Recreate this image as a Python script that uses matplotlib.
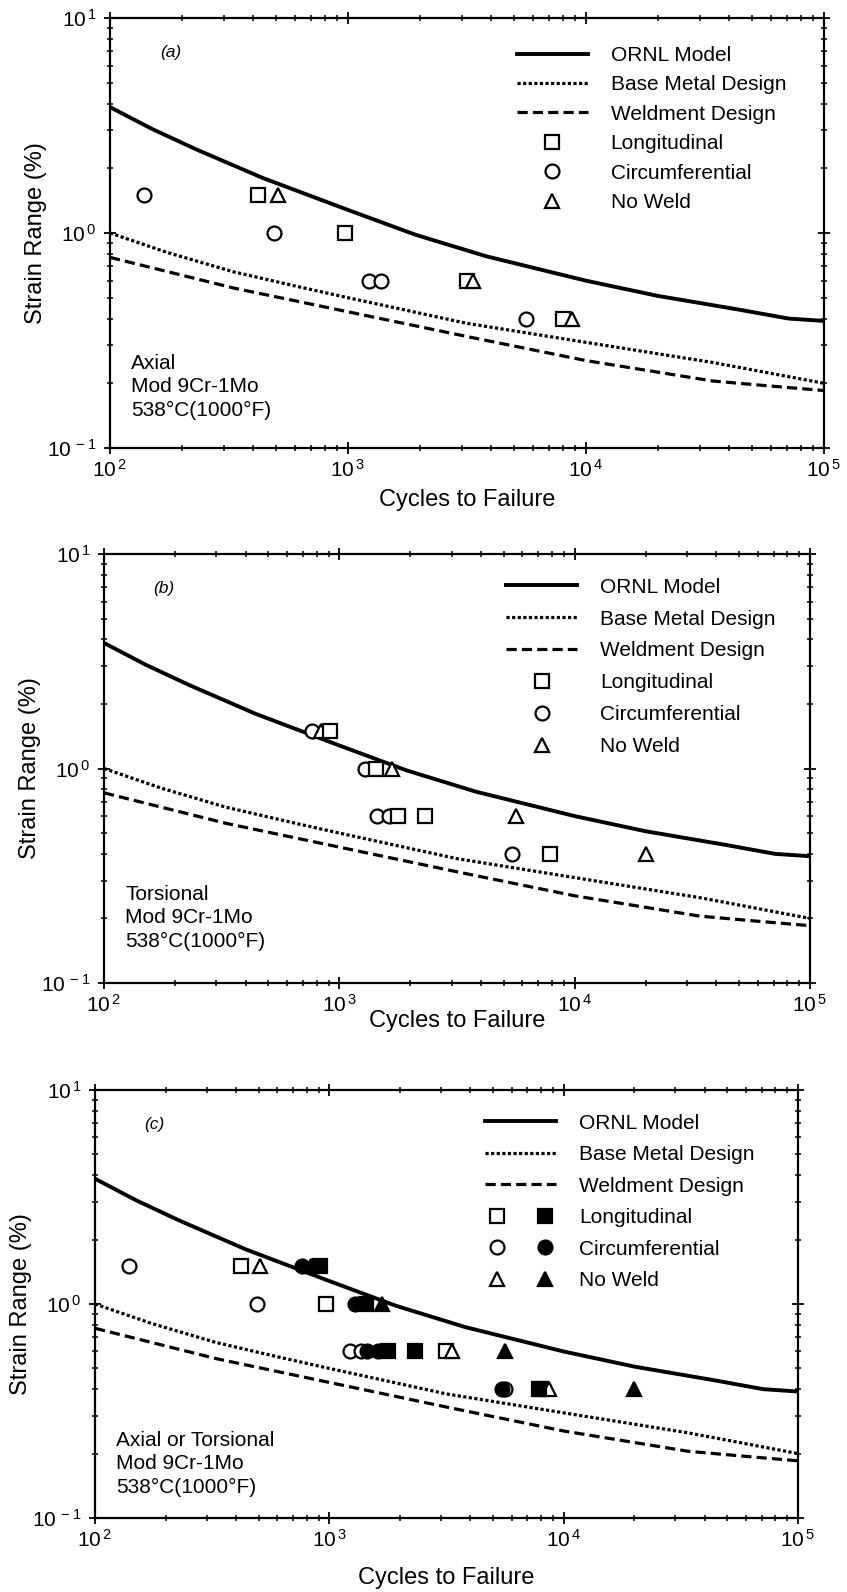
import matplotlib
matplotlib.use('Agg')
import matplotlib.pyplot as plt
import matplotlib.ticker as mticker
import numpy as np
from matplotlib.legend_handler import HandlerTuple

plt.rcParams['font.family'] = ['Liberation Sans', 'DejaVu Sans']
plt.rcParams['mathtext.default'] = 'regular'

# ---------------- data ----------------
# design / model curves (cycles, strain range %)
ornl_N = [100, 150, 230, 440, 1000, 1930, 3800, 10000, 20000, 44000, 71000, 100000]
ornl_S = [3.85, 3.05, 2.45, 1.80, 1.28, 0.98, 0.78, 0.60, 0.51, 0.44, 0.40, 0.39]

base_N = [100, 175, 330, 630, 1000, 3160, 10000, 34000, 100000]
base_S = [1.00, 0.81, 0.66, 0.56, 0.50, 0.38, 0.31, 0.25, 0.20]

weld_N = [100, 330, 1000, 3160, 10000, 34000, 57000, 100000]
weld_S = [0.77, 0.555, 0.43, 0.33, 0.255, 0.205, 0.195, 0.185]

# (a) axial tests
a_long_N = [420, 970, 3160, 8000]
a_long_S = [1.5, 1.0, 0.6, 0.4]
a_circ_N = [139, 490, 1230, 1370, 5600]
a_circ_S = [1.5, 1.0, 0.6, 0.6, 0.4]
a_nw_N = [508, 3350, 8700]
a_nw_S = [1.5, 0.6, 0.4]

# (b) torsional tests
b_long_N = [916, 1435, 1780, 2320, 7840]
b_long_S = [1.5, 1.0, 0.6, 0.6, 0.4]
b_circ_N = [768, 1290, 1445, 1620, 5440]
b_circ_S = [1.5, 1.0, 0.6, 0.6, 0.4]
b_nw_N = [838, 1680, 5610, 20000]
b_nw_S = [1.5, 1.0, 0.6, 0.4]

curve_labels = ['ORNL Model', 'Base Metal Design', 'Weldment Design']
marker_labels = ['Longitudinal', 'Circumferential', 'No Weld']
panel_tags = ['(a)', '(b)', '(c)']
panel_notes = ['Axial\nMod 9Cr-1Mo\n538°C(1000°F)',
               'Torsional\nMod 9Cr-1Mo\n538°C(1000°F)',
               'Axial or Torsional\nMod 9Cr-1Mo\n538°C(1000°F)']

# ---------------- figure ----------------
W, H = 847, 1592
fig = plt.figure(figsize=(W / 100, H / 100), dpi=100)

def box(l, r, t, b):
    return [l / W, 1 - b / H, (r - l) / W, (b - t) / H]

axes = [fig.add_axes(box(110, 824, 18, 448)),
        fig.add_axes(box(104, 810, 554, 983)),
        fig.add_axes(box(95, 798, 1090, 1518))]
xlabel_pads = [6, -4, 12]
note_y = [0.065, 0.075, 0.05]

LW = 2.3
MS = 10
MEW = 1.6

def pow_fmt(v, pos):
    e = int(round(np.log10(v)))
    sign = '-' if e < 0 else ''
    return r'$10^{\,%s%d}$' % (sign, abs(e))

def setup(ax, xpad):
    ax.set_xscale('log')
    ax.set_yscale('log')
    ax.set_xlim(1e2, 1e5)
    ax.set_ylim(0.1, 10)
    for axis in (ax.xaxis, ax.yaxis):
        axis.set_major_locator(mticker.LogLocator(base=10, numticks=10))
        axis.set_minor_locator(mticker.LogLocator(base=10, subs=range(2, 10), numticks=30))
        axis.set_minor_formatter(mticker.NullFormatter())
        axis.set_major_formatter(mticker.FuncFormatter(pow_fmt))
    ax.tick_params(which='both', direction='inout', top=True, right=True,
                   labelsize=15, pad=3)
    ax.tick_params(axis='y', pad=5)
    ax.tick_params(which='major', length=9, width=1.3)
    ax.tick_params(which='minor', length=5, width=1.1)
    for s in ax.spines.values():
        s.set_linewidth(1.6)
    ax.set_xlabel('Cycles to Failure', fontsize=17, labelpad=xpad)
    ax.set_ylabel('Strain Range (%)', fontsize=17, labelpad=0)

def curves(ax):
    l1, = ax.plot(ornl_N, ornl_S, color='k', lw=LW + 0.5, ls='-')
    l2, = ax.plot(base_N, base_S, color='k', lw=LW, ls=(0, (1.0, 0.75)))
    l3, = ax.plot(weld_N, weld_S, color='k', lw=LW, ls=(0, (3.2, 1.6)))
    return [l1, l2, l3]

def pts(ax, N, S, marker, filled):
    fc = 'k' if filled else 'white'
    h, = ax.plot(N, S, ls='none', marker=marker, ms=MS, mfc=fc, mec='k', mew=MEW)
    return h

leg_kw = dict(fontsize=15, frameon=False, loc='upper left',
              bbox_to_anchor=(0.57, 0.935), borderpad=0, borderaxespad=0,
              handlelength=3.4, handletextpad=1.1, labelspacing=0.5)

# panel (a)
ax = axes[0]
setup(ax, xlabel_pads[0])
lines = curves(ax)
hs = pts(ax, a_long_N, a_long_S, 's', False)
hc = pts(ax, a_circ_N, a_circ_S, 'o', False)
ht = pts(ax, a_nw_N, a_nw_S, '^', False)
ax.legend(lines + [hs, hc, ht], curve_labels + marker_labels, **leg_kw)

# panel (b)
ax = axes[1]
setup(ax, xlabel_pads[1])
lines = curves(ax)
hc = pts(ax, b_circ_N, b_circ_S, 'o', False)
ht = pts(ax, b_nw_N, b_nw_S, '^', False)
hs = pts(ax, b_long_N, b_long_S, 's', False)
kw_b = dict(leg_kw)
kw_b['labelspacing'] = 0.62
kw_b['bbox_to_anchor'] = (0.57, 0.945)
ax.legend(lines + [hs, hc, ht], curve_labels + marker_labels, **kw_b)

# panel (c): open = axial, filled = torsional
ax = axes[2]
setup(ax, xlabel_pads[2])
lines = curves(ax)
os_ = pts(ax, a_long_N, a_long_S, 's', False)
oc = pts(ax, a_circ_N, a_circ_S, 'o', False)
ot = pts(ax, a_nw_N, a_nw_S, '^', False)
fs_ = pts(ax, b_long_N, b_long_S, 's', True)
fc = pts(ax, b_circ_N, b_circ_S, 'o', True)
ft = pts(ax, b_nw_N, b_nw_S, '^', True)
kw_c = dict(leg_kw)
kw_c['bbox_to_anchor'] = (0.555, 0.945)
kw_c['labelspacing'] = 0.6
ax.legend(lines + [(os_, fs_), (oc, fc), (ot, ft)], curve_labels + marker_labels,
          handler_map={tuple: HandlerTuple(ndivide=None, pad=1.2)}, **kw_c)

for ax, tag, note, ny in zip(axes, panel_tags, panel_notes, note_y):
    ax.text(0.07, 0.92, tag, transform=ax.transAxes, fontsize=12.5,
            style='italic', ha='left', va='center')
    ax.text(0.03, ny, note, transform=ax.transAxes, fontsize=15,
            ha='left', va='bottom', linespacing=1.3)

fig.savefig('out.png', dpi=100)
